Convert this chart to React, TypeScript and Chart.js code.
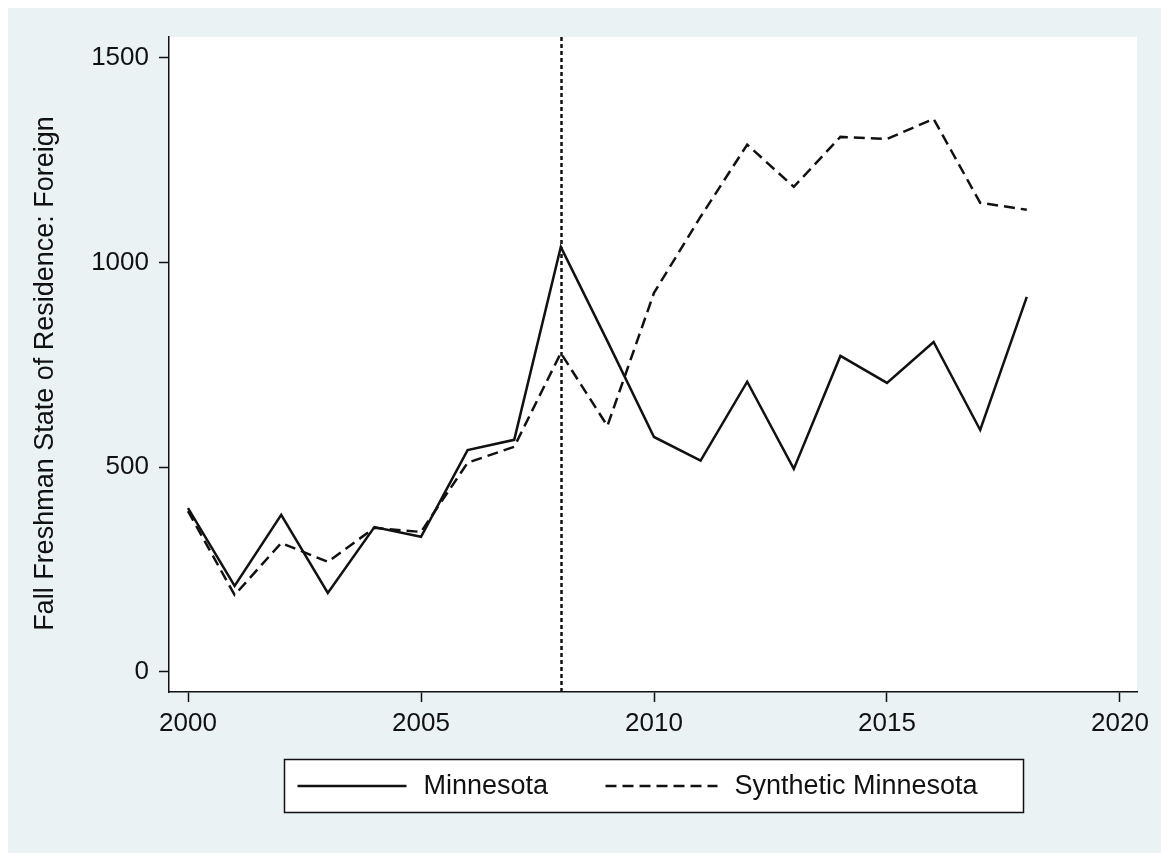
import React, { useEffect, useRef } from "react";
import { Chart, registerables } from "chart.js";

Chart.register(...registerables);

// Academic years and enrolment counts
const years = [2000, 2001, 2002, 2003, 2004, 2005, 2006, 2007, 2008, 2009, 2010, 2011, 2012, 2013, 2014, 2015, 2016, 2017, 2018];
const minnesota = [400, 210, 384, 193, 354, 330, 542, 567, 1038, 808, 574, 516, 709, 496, 772, 706, 806, 591, 916];
const syntheticMinnesota = [393, 188, 315, 269, 352, 342, 511, 550, 779, 601, 926, 1112, 1288, 1185, 1307, 1302, 1351, 1146, 1129];

const xTicks = [2000, 2005, 2010, 2015, 2020];
const yTicks = [0, 500, 1000, 1500];
const treatmentYear = 2008;

const seriesLabels = ["Minnesota", "Synthetic Minnesota"];
const yAxisTitle = "Fall Freshman State of Residence: Foreign";

const FONT = "'Liberation Sans', Arial, Helvetica, sans-serif";
const INK = "#111111";
const OUTER_BG = "#eaf2f4";
const DASH = [11, 6];

const W = 1153;
const H = 845;

export default function App() {
  const canvasRef = useRef<HTMLCanvasElement | null>(null);

  useEffect(() => {
    const canvas = canvasRef.current;
    if (!canvas) return;

    // Graph region + white plot region
    const backgroundPlugin = {
      id: "regions",
      beforeDraw(chart: any) {
        const { ctx, chartArea } = chart;
        ctx.save();
        ctx.fillStyle = OUTER_BG;
        ctx.fillRect(0, 0, chart.width, chart.height);
        ctx.fillStyle = "#ffffff";
        ctx.fillRect(chartArea.left, chartArea.top, chartArea.right - chartArea.left, chartArea.bottom - chartArea.top);
        ctx.restore();
      },
    };

    // Rotated y-axis title, centred a little below the plot's midpoint
    const yTitlePlugin = {
      id: "yTitle",
      afterDraw(chart: any) {
        const { ctx, chartArea } = chart;
        ctx.save();
        ctx.translate(38, (chartArea.top + chartArea.bottom) / 2 + 9);
        ctx.rotate(-Math.PI / 2);
        ctx.fillStyle = INK;
        ctx.font = `27px ${FONT}`;
        ctx.textAlign = "center";
        ctx.textBaseline = "middle";
        ctx.fillText(yAxisTitle, 0, 0);
        ctx.restore();
      },
    };

    // Vertical dotted line marking the treatment year
    const treatmentPlugin = {
      id: "treatment",
      afterDatasetsDraw(chart: any) {
        const { ctx, chartArea, scales } = chart;
        const x = Math.round(scales.x.getPixelForValue(treatmentYear)) + 0.5;
        ctx.save();
        ctx.strokeStyle = INK;
        ctx.lineWidth = 2.5;
        ctx.setLineDash([4, 3]);
        ctx.beginPath();
        ctx.moveTo(x, chartArea.top);
        ctx.lineTo(x, chartArea.bottom);
        ctx.stroke();
        ctx.restore();
      },
    };

    // Framed legend below the x axis
    const legendPlugin = {
      id: "framedLegend",
      afterDraw(chart: any) {
        const { ctx, chartArea } = chart;
        const boxW = 739;
        const boxH = 53;
        const cx = (chartArea.left + chartArea.right) / 2;
        const left = Math.round(cx - boxW / 2) + 0.5;
        const top = Math.round(chartArea.bottom + 67) + 0.5;
        ctx.save();
        ctx.fillStyle = "#ffffff";
        ctx.fillRect(left, top, boxW, boxH);
        ctx.strokeStyle = INK;
        ctx.lineWidth = 1.5;
        ctx.strokeRect(left, top, boxW, boxH);

        const midY = top + boxH / 2;
        const items = [
          { x0: 13, x1: 122, tx: 139, dash: [] as number[] },
          { x0: 321, x1: 433, tx: 450, dash: DASH },
        ];
        chart.data.datasets.forEach((ds: any, i: number) => {
          const it = items[i];
          ctx.strokeStyle = INK;
          ctx.lineWidth = 2.5;
          ctx.setLineDash(it.dash);
          ctx.beginPath();
          ctx.moveTo(left + it.x0, midY);
          ctx.lineTo(left + it.x1, midY);
          ctx.stroke();
          ctx.setLineDash([]);
          ctx.fillStyle = INK;
          ctx.font = `27px ${FONT}`;
          ctx.textAlign = "left";
          ctx.textBaseline = "middle";
          ctx.fillText(ds.label, left + it.tx, midY + 1);
        });
        ctx.restore();
      },
    };

    const toPoints = (vals: number[]) => years.map((y, i) => ({ x: y, y: vals[i] }));

    const axisGrid = {
      display: true,
      drawOnChartArea: false,
      drawTicks: true,
      tickLength: 10,
      tickColor: INK,
      tickWidth: 1.5,
      color: INK,
    };

    const chart = new Chart(canvas, {
      type: "line",
      data: {
        datasets: [
          {
            label: seriesLabels[0],
            data: toPoints(minnesota),
            borderColor: INK,
            borderWidth: 2.5,
            pointRadius: 0,
            tension: 0,
            fill: false,
          },
          {
            label: seriesLabels[1],
            data: toPoints(syntheticMinnesota),
            borderColor: INK,
            borderWidth: 2.5,
            borderDash: DASH,
            pointRadius: 0,
            tension: 0,
            fill: false,
          },
        ],
      },
      options: {
        responsive: false,
        animation: false,
        devicePixelRatio: 1,
        layout: { padding: { left: 0, right: 24, top: 29, bottom: 101 } },
        plugins: {
          legend: { display: false },
          tooltip: { enabled: false },
        },
        scales: {
          x: {
            type: "linear",
            min: 1999.592,
            max: 2020.365,
            afterBuildTicks: (axis: any) => {
              axis.ticks = xTicks.map((v) => ({ value: v }));
            },
            afterFit: (axis: any) => {
              axis.height = 60;
            },
            ticks: {
              color: INK,
              font: { family: FONT, size: 26 },
              padding: 6,
              maxRotation: 0,
              autoSkip: false,
              callback: (v: any) => String(v),
            },
            grid: axisGrid,
            border: { display: true, color: INK, width: 1.5 },
          },
          y: {
            type: "linear",
            min: -49,
            max: 1551,
            afterBuildTicks: (axis: any) => {
              axis.ticks = yTicks.map((v) => ({ value: v }));
            },
            afterFit: (axis: any) => {
              axis.width = 161;
            },
            ticks: {
              color: INK,
              font: { family: FONT, size: 26 },
              padding: 10,
              autoSkip: false,
              callback: (v: any) => String(v),
            },
            grid: axisGrid,
            border: { display: true, color: INK, width: 1.5 },
          },
        },
      },
      plugins: [backgroundPlugin, treatmentPlugin, yTitlePlugin, legendPlugin],
    });

    return () => chart.destroy();
  }, []);

  return (
    <div style={{ position: "fixed", left: 8, top: 8, width: 1300, height: 1000, background: OUTER_BG, overflow: "hidden" }}>
      <canvas ref={canvasRef} width={W} height={H} style={{ display: "block", width: W, height: H }} />
    </div>
  );
}
